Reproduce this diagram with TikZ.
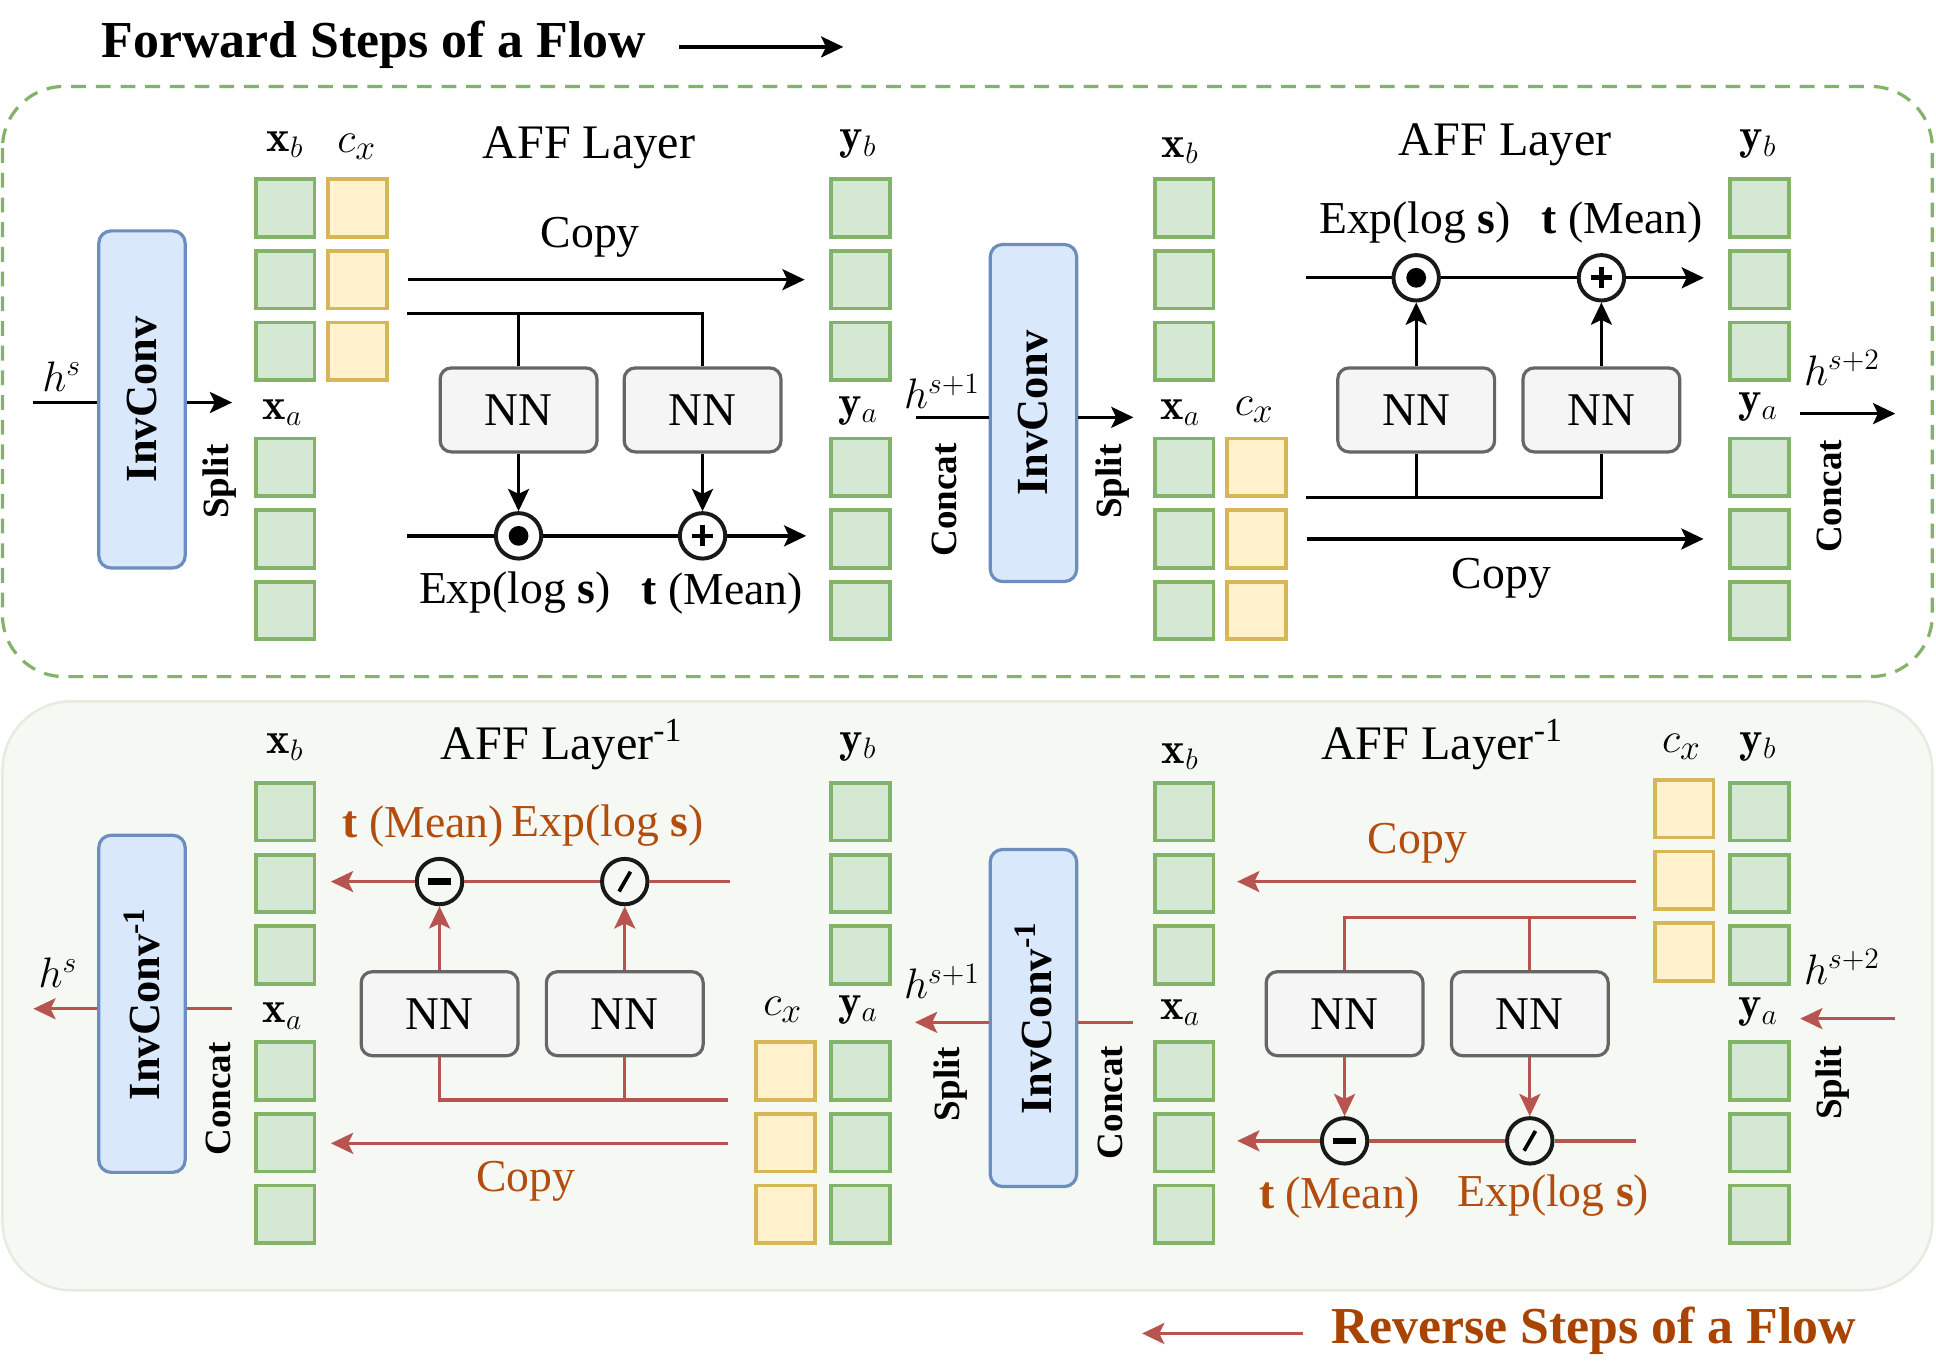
\documentclass[tikz,border=0pt]{standalone}
\usepackage{fontspec}
\newfontfamily\tms{Liberation Serif}
\usetikzlibrary{arrows.meta,calc}
\definecolor{gfill}{HTML}{D5E8D4}\definecolor{gline}{HTML}{82B366}
\definecolor{yfill}{HTML}{FFF2CC}\definecolor{yline}{HTML}{D6B656}
\definecolor{bfill}{HTML}{DAE8FC}\definecolor{bline}{HTML}{6C8EBF}
\definecolor{nfill}{HTML}{F5F5F5}\definecolor{nline}{HTML}{666666}
\definecolor{rline}{HTML}{B85450}
\definecolor{lbrown}{HTML}{B34D0D}\definecolor{tbrown}{HTML}{A84300}
\definecolor{lowbg}{HTML}{F6F9F3}\definecolor{lowline}{HTML}{E4EDDD}
\newcommand\cellcol[4]{\foreach \i in {0,1,2}{\node[#4] (#1\i) at (#2,{#3+58*\i}) {};}}
\tikzset{
 gcell/.style={draw=gline, fill=gfill, line width=1.5pt, minimum width=23.8pt, minimum height=23.3pt, inner sep=0pt},
 ycell/.style={gcell, draw=yline, fill=yfill},
 invbox/.style={draw=bline, fill=bfill, line width=1.3pt, rounded corners=5pt, minimum width=35pt, minimum height=136.5pt, inner sep=0pt},
 invtxt/.style={rotate=90, font=\tms\bfseries\fontsize{18}{20}\selectfont, inner sep=0pt},
 nnbox/.style={draw=nline, fill=nfill, line width=1.3pt, rounded corners=4.5pt, minimum width=63.5pt, minimum height=34pt, font=\tms\fontsize{19}{20}\selectfont},
 lbl/.style={font=\tms\fontsize{18.5}{20}\selectfont, inner sep=0pt},
 rlbl/.style={lbl, text=lbrown},
 aff/.style={font=\tms\fontsize{19.5}{21}\selectfont, inner sep=0pt},
 mlbl/.style={font=\fontsize{18}{20}\selectfont, inner sep=0pt},
 rot/.style={rotate=90, font=\tms\bfseries\fontsize{15}{17}\selectfont, inner sep=0pt},
 ttl/.style={font=\tms\bfseries\fontsize{21}{24}\selectfont, inner sep=0pt},
 ln/.style={line width=1.35pt},
 arr/.style={ln, -{Stealth[length=9pt,width=8.5pt,inset=2pt]}},
 rln/.style={ln, draw=rline},
 rarr/.style={arr, draw=rline, color=rline},
 op/.style={circle, draw=black!90, line width=1.6pt, fill=white, minimum size=18.4pt, inner sep=0pt},
 lop/.style={op, fill=lowbg},
 opdot/.style={op, path picture={\fill[black] (path picture bounding box.center) circle (4pt);}},
 opplus/.style={op, path picture={\draw[black, line width=1.9pt] ([xshift=-4.3pt]path picture bounding box.center) -- ([xshift=4.3pt]path picture bounding box.center) ([yshift=-4.3pt]path picture bounding box.center) -- ([yshift=4.3pt]path picture bounding box.center);}},
 opminus/.style={lop, path picture={\fill[black] ([xshift=-4.7pt,yshift=-1.35pt]path picture bounding box.center) rectangle ([xshift=4.7pt,yshift=1.35pt]path picture bounding box.center);}},
 opslash/.style={lop, path picture={\draw[black, line width=1.5pt] ([xshift=-2.3pt,yshift=-4pt]path picture bounding box.center) -- ([xshift=2.3pt,yshift=4pt]path picture bounding box.center);}},
}
\begin{document}
\begin{tikzpicture}[x=0.5pt,y=-0.5pt]
\useasboundingbox (0,0) rectangle (1568,1108);
% frames
\draw[gline, line width=1.3pt, dash pattern=on 6pt off 4pt, rounded corners=25pt] (2,70) rectangle (1565,548);
\draw[lowline, fill=lowbg, line width=1pt, rounded corners=28pt] (2,568) rectangle (1565,1045);
% titles
\node[ttl] (ftitle) at (303,36) {Forward Steps of a Flow};
\coordinate (fa1) at (550,38); \coordinate (fa2) at (683,38);
\draw[arr] (fa1) -- (fa2);
\node[ttl, text=tbrown] (rtitle) at (1291,1078) {Reverse Steps of a Flow};
\coordinate (ra1) at (1055,1080); \coordinate (ra2) at (925,1080);
\draw[rarr] (ra1) -- (ra2);

% ================= upper cells
\cellcol{uxb}{231}{168.5}{gcell}
\cellcol{ucx}{289.5}{168.5}{ycell}
\cellcol{uxa}{231}{378.5}{gcell}
\cellcol{uyb}{697}{168.5}{gcell}
\cellcol{uya}{697}{378.5}{gcell}
\cellcol{vxb}{959}{168.5}{gcell}
\cellcol{vxa}{959}{378.5}{gcell}
\cellcol{vcx}{1017.5}{378.5}{ycell}
\cellcol{vyb}{1425}{168.5}{gcell}
\cellcol{vya}{1425}{378.5}{gcell}
\node[mlbl] (luxb) at (231,117) {$\mathbf{x}_b$};
\node[mlbl, font=\fontsize{19}{20}\selectfont] (lucx) at (289,119) {$c_x$};
\node[mlbl] (luxa) at (229,334) {$\mathbf{x}_a$};
\node[mlbl] (luyb) at (695,117) {$\mathbf{y}_b$};
\node[mlbl] (luya) at (695,333) {$\mathbf{y}_a$};
\node[mlbl] (lvxb) at (956,122) {$\mathbf{x}_b$};
\node[mlbl] (lvxa) at (956,334) {$\mathbf{x}_a$};
\node[mlbl, font=\fontsize{19}{20}\selectfont] (lvcx) at (1016,332) {$c_x$};
\node[mlbl] (lvyb) at (1424,117) {$\mathbf{y}_b$};
\node[mlbl] (lvya) at (1424,330) {$\mathbf{y}_a$};

% upper InvConv
\node[invbox] (inv1) at (115,323.5) {};
\node[invtxt] (inv1t) at (inv1) {InvConv};
\node[invbox] (inv2) at (837,334.5) {};
\node[invtxt] (inv2t) at (inv2) {InvConv};
\coordinate (hs0) at (27,326); \coordinate (hs0e) at (188,326);
\draw[ln] (hs0) -- (hs0 -| inv1.west);
\draw[arr] (inv1.east |- hs0) -- (hs0e);
\node[mlbl] (lhs0) at (50,305) {$h^s$};
\node[rot] (split1) at (178,390) {Split};
\coordinate (hs1a) at (742,338); \coordinate (hs1b) at (918,338);
\draw[ln] (hs1a) -- (hs1a -| inv2.west);
\draw[arr] (inv2.east |- hs1a) -- (hs1b);
\node[mlbl] (lhs1) at (763,317) {$h^{s+1}$};
\node[rot] (concat1) at (765,405) {Concat};
\node[rot] (split2) at (901,390) {Split};
\coordinate (hs2a) at (1458,335); \coordinate (hs2b) at (1535,335);
\draw[arr] (hs2a) -- (hs2b);
\node[mlbl] (lhs2) at (1492,298) {$h^{s+2}$};
\node[rot] (concat2) at (1482,402) {Concat};

% upper left AFF
\node[aff] (aff1) at (477,120) {AFF Layer};
\node[lbl] (copy1) at (478,192) {Copy};
\draw[arr] ([xshift=8pt]ucx1.east) -- ([xshift=-10pt]uyb1.west);
\node[nnbox] (nn1) at (420,332) {NN};
\node[nnbox] (nn2) at (569,332) {NN};
\node[opdot] (o1) at (420,434) {};
\node[opplus] (o2) at (569,434) {};
\coordinate (b1) at (330,254);
\draw[ln] (b1) -| (nn2.north);
\draw[ln] (nn1.north) -- (nn1.north |- b1);
\draw[arr] (nn1) -- (o1);
\draw[arr] (nn2) -- (o2);
\coordinate (a1s) at (330,434); \coordinate (a1e) at (653,434);
\draw[ln] (a1s) -- (o1);
\draw[ln] (o1) -- (o2);
\draw[arr] (o2) -- (a1e);
\node[lbl] (e1) at (417,480) {Exp(log \textbf{s})};
\node[lbl] (m1) at (585,481) {\textbf{t} (Mean)};

% upper right AFF
\node[aff] (aff2) at (1219,117) {AFF Layer};
\node[lbl] (e2) at (1146,180) {Exp(log \textbf{s})};
\node[lbl] (m2) at (1314,180) {\textbf{t} (Mean)};
\node[nnbox] (nn3) at (1147,332) {NN};
\node[nnbox] (nn4) at (1297,332) {NN};
\node[opdot] (o3) at (1147,225) {};
\node[opplus] (o4) at (1297,225) {};
\coordinate (t3s) at (1058,225); \coordinate (t3e) at (1380,225);
\draw[ln] (t3s) -- (o3);
\draw[ln] (o3) -- (o4);
\draw[arr] (o4) -- (t3e);
\draw[arr] (nn3) -- (o3);
\draw[arr] (nn4) -- (o4);
\coordinate (b3) at (1058,403);
\draw[ln] (b3) -| (nn4.south);
\draw[ln] (nn3.south) -- (nn3.south |- b3);
\draw[arr] ([xshift=8pt]vcx1.east) -- ([xshift=-10pt]vya1.west);
\node[lbl] (copy2) at (1216,468) {Copy};

% ================= lower cells
\cellcol{lxb}{231}{657.5}{gcell}
\cellcol{lxa}{231}{867.5}{gcell}
\cellcol{lyb}{697}{657.5}{gcell}
\cellcol{lcx}{636}{867.5}{ycell}
\cellcol{lya}{697}{867.5}{gcell}
\cellcol{mxb}{959}{657.5}{gcell}
\cellcol{mxa}{959}{867.5}{gcell}
\cellcol{mcx}{1364}{655}{ycell}
\cellcol{myb}{1425}{657.5}{gcell}
\cellcol{mya}{1425}{867.5}{gcell}
\node[mlbl] (llxb) at (231,605) {$\mathbf{x}_b$};
\node[mlbl] (llxa) at (229,823) {$\mathbf{x}_a$};
\node[mlbl] (llyb) at (695,605) {$\mathbf{y}_b$};
\node[mlbl, font=\fontsize{19}{20}\selectfont] (llcx) at (634,818) {$c_x$};
\node[mlbl] (llya) at (695,818) {$\mathbf{y}_a$};
\node[mlbl] (lmxb) at (956,613) {$\mathbf{x}_b$};
\node[mlbl] (lmxa) at (956,820) {$\mathbf{x}_a$};
\node[mlbl, font=\fontsize{19}{20}\selectfont] (lmcx) at (1362,605) {$c_x$};
\node[mlbl] (lmyb) at (1424,605) {$\mathbf{y}_b$};
\node[mlbl] (lmya) at (1424,820) {$\mathbf{y}_a$};

% lower InvConv
\node[invbox] (inv3) at (115,813) {};
\node[invtxt] (inv3t) at (inv3) {InvConv\textsuperscript{-1}};
\node[invbox] (inv4) at (837,824.5) {};
\node[invtxt] (inv4t) at (inv4) {InvConv\textsuperscript{-1}};
\coordinate (l0a) at (188,817); \coordinate (l0b) at (27,817);
\draw[rln] (l0a) -- (l0a -| inv3.east);
\draw[rarr] (inv3.west |- l0a) -- (l0b);
\node[mlbl] (lhs3) at (47,788) {$h^s$};
\node[rot] (concat3) at (177,890) {Concat};
\coordinate (l1a) at (918,828); \coordinate (l1b) at (741,828);
\draw[rln] (l1a) -- (l1a -| inv4.east);
\draw[rarr] (inv4.west |- l1a) -- (l1b);
\node[mlbl] (lhs4) at (763,795) {$h^{s+1}$};
\node[rot] (split3) at (770,878) {Split};
\node[rot] (concat4) at (899,893) {Concat};
\coordinate (l2a) at (1535,825); \coordinate (l2b) at (1458,825);
\draw[rarr] (l2a) -- (l2b);
\node[mlbl] (lhs5) at (1492,783) {$h^{s+2}$};
\node[rot] (split4) at (1484,877) {Split};

% lower left AFF^-1
\node[aff] (aff3) at (455,603) {AFF Layer\textsuperscript{-1}};
\node[rlbl] (m3) at (343,669) {\textbf{t} (Mean)};
\node[rlbl] (e3) at (492,669) {Exp(log \textbf{s})};
\node[nnbox] (nn5) at (356,821) {NN};
\node[nnbox] (nn6) at (506,821) {NN};
\node[opminus] (o5) at (356,714) {};
\node[opslash] (o6) at (506,714) {};
\coordinate (t5s) at (591,714); \coordinate (t5e) at (268,714);
\draw[rln] (t5s) -- (o6);
\draw[rln] (o6) -- (o5);
\draw[rarr] (o5) -- (t5e);
\draw[rarr] (nn5) -- (o5);
\draw[rarr] (nn6) -- (o6);
\coordinate (b5) at (590,891);
\draw[rln] (b5) -| (nn5.south);
\draw[rln] (nn6.south) -- (nn6.south |- b5);
\coordinate (c5s) at (590,926); \coordinate (c5e) at (268,926);
\draw[rarr] (c5s) -- (c5e);
\node[rlbl] (copy3) at (426,957) {Copy};

% lower right AFF^-1
\node[aff] (aff4) at (1168,603) {AFF Layer\textsuperscript{-1}};
\node[rlbl] (copy4) at (1148,683) {Copy};
\coordinate (c7s) at (1325,714); \coordinate (c7e) at (1002,714);
\draw[rarr] (c7s) -- (c7e);
\node[nnbox] (nn7) at (1089,821) {NN};
\node[nnbox] (nn8) at (1239,821) {NN};
\node[opminus] (o7) at (1089,924) {};
\node[opslash] (o8) at (1239,924) {};
\coordinate (b7) at (1325,743);
\draw[rln] (b7) -| (nn7.north);
\draw[rln] (nn8.north) -- (nn8.north |- b7);
\draw[rarr] (nn7) -- (o7);
\draw[rarr] (nn8) -- (o8);
\coordinate (t7s) at (1325,924); \coordinate (t7e) at (1002,924);
\draw[rln] (t7s) -- (o8);
\draw[rln] (o8) -- (o7);
\draw[rarr] (o7) -- (t7e);
\node[rlbl] (m4) at (1085,970) {\textbf{t} (Mean)};
\node[rlbl] (e4) at (1258,968) {Exp(log \textbf{s})};
\end{tikzpicture}
\end{document}
